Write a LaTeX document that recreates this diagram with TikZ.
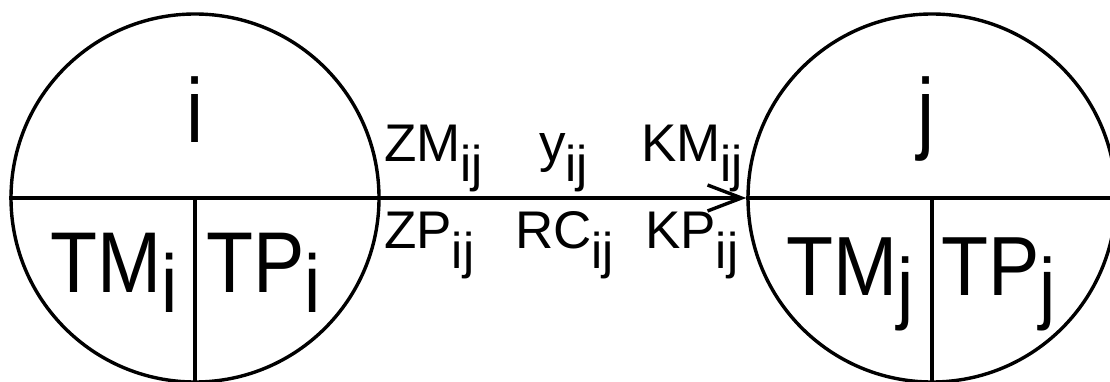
\documentclass[tikz,border=0pt]{standalone}
\usepackage{fontspec}
\setmainfont{Liberation Sans}
\usetikzlibrary{arrows.meta,positioning}
\newcommand{\lowidx}[2][20pt]{\raisebox{-#1}{\scalebox{0.95}{#2}}}

\begin{document}
\begin{tikzpicture}[x=1pt,y=-1pt,
  flownode/.style={circle,draw,line width=3.4pt,minimum size=368pt,inner sep=0pt},
  flowsplit/.style={line width=3.4pt},
  flowarrow/.style={-{Straight Barb[length=34pt,width=26pt]},line width=3.4pt},
  flowlbl/.style={anchor=base west,inner sep=0pt,font=\fontsize{53}{53}\selectfont},
  bigtxt/.style={anchor=base west,inner sep=0pt,font=\fontsize{77}{77}\selectfont}
]
  \useasboundingbox (0,0) rectangle (1110,382);
  % the two nodes
  \node[flownode] (ni) at (195,198) {};
  \node[flownode] (nj) at (932,198) {};
  % dividers inside the nodes
  \draw[flowsplit] (ni.west) -- (ni.east);
  \draw[flowsplit] (ni.center) -- (ni.south);
  \draw[flowsplit] (nj.west) -- (nj.east);
  \draw[flowsplit] (nj.center) -- (nj.south);
  % arc i -> j
  \draw[flowarrow] (ni.east) -- (nj.west);
  % node texts
  \node[bigtxt,anchor=base] (lbli) at (195,143) {\scalebox{1}[1.18]{i}};
  \node[bigtxt,anchor=base] (lblj) at (926,143) {\scalebox{1}[1.18]{j}};
  \node[bigtxt] (tmi) at (50,292) {\scalebox{1}[1.12]{TM\lowidx[18pt]{i}}};
  \node[bigtxt] (tpi) at (206,292) {\scalebox{1}[1.12]{TP\lowidx[18pt]{i}}};
  \node[bigtxt] (tmj) at (786,295) {\scalebox{1}[1.09]{TM\lowidx[18pt]{j}}};
  \node[bigtxt] (tpj) at (941,295) {\scalebox{1}[1.09]{TP\lowidx[18pt]{j}}};
  % arc texts
  \node[flowlbl] (zm) at (384,162) {ZM\lowidx{ij}};
  \node[flowlbl] (yy) at (539,162) {y\lowidx{ij}};
  \node[flowlbl] (km) at (641,162) {KM\lowidx{ij}};
  \node[flowlbl] (zp) at (384,248) {ZP\lowidx{ij}};
  \node[flowlbl] (rc) at (515,248) {RC\lowidx{ij}};
  \node[flowlbl] (kp) at (645,248) {KP\lowidx{ij}};
\end{tikzpicture}
\end{document}
